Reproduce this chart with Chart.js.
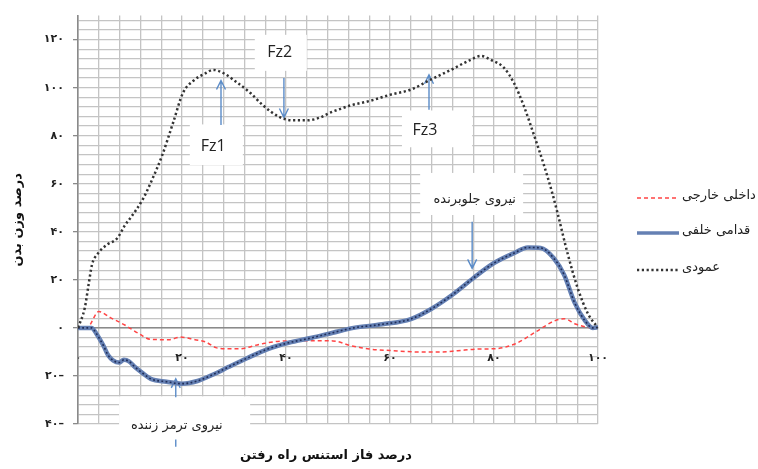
<!DOCTYPE html>
<html lang="fa">
<head>
  <meta charset="UTF-8">
  <title>نیروی عکس العمل زمین</title>
  <script src="https://cdn.jsdelivr.net/npm/chart.js@4.4.1/dist/chart.umd.min.js"></script>
  <style>
    body { margin: 0; background: #fff; }
    #chart { display: block; }
  </style>
</head>
<body>
<canvas id="chart" width="758" height="469"></canvas>
<script>
    // درصد فاز استنس (x) و درصد وزن بدن (y) برای هر مولفه
    const mlX = [0, 1.7, 4, 6.2, 9, 11.8, 14, 17.5, 19.7, 22.5, 24.5, 26.5, 28.5, 31, 35, 39, 45, 49, 52.5, 56, 60, 65.5, 70, 73, 77, 80.5, 84, 88.3, 91.5, 93.5, 95.8, 98.2, 100];
    const mlY = [0, 0, 6.8, 4.3, 1.2, -2.5, -4.8, -4.9, -3.8, -4.9, -5.8, -8.2, -8.7, -8.7, -6.8, -5.5, -5.3, -5.4, -7.4, -8.8, -9.4, -10, -10, -9.5, -8.8, -8.6, -6.7, -1.3, 2.8, 3.8, 1.5, 0.2, 0];

    const apX = [0, 2.6, 3.6, 4.9, 5.8, 6.8, 7.9, 8.8, 9.8, 11, 12.3, 14, 17, 20, 23, 26, 29, 32.5, 36.5, 40.5, 45, 49, 53, 58.5, 64, 68, 72, 76, 80, 84, 86.5, 89, 91.5, 93.5, 95.5, 97.5, 99, 100];
    const apY = [0, 0, -2.6, -7.4, -11.4, -13.6, -14.4, -13.3, -13.9, -16.4, -18.6, -21.2, -22.4, -23.2, -22.1, -19.4, -16.2, -12.6, -8.8, -6.2, -4.1, -2, 0, 1.5, 3.7, 8, 13.8, 20.7, 27, 31.3, 33.5, 33.3, 29, 22, 10.5, 3, 0, 0.3];

    const vX = [0, 1.3, 2, 2.7, 3.7, 5.6, 7.5, 9.1, 10, 12.5, 14, 16.2, 18.3, 20.2, 22.2, 24.5, 26, 28, 30.6, 33.1, 35.6, 38.9, 41.4, 44.1, 46.6, 48.6, 50.5, 52.4, 56.3, 60.1, 64, 67.8, 71.7, 75.5, 77.5, 79.4, 81.9, 83.8, 85.7, 87.7, 89.6, 91.3, 92.3, 94.2, 96.1, 98.1, 100];
    const vY = [0, 8.3, 17.5, 26.4, 30.6, 34.7, 37.2, 43, 45.5, 53.7, 60.5, 71.9, 85.5, 97.9, 102.9, 106, 107.4, 106, 102.1, 97.9, 92.6, 87.6, 86.4, 86.4, 87.6, 89.7, 91.2, 92.6, 94.6, 97.1, 99.2, 103.3, 107.4, 111.6, 113.2, 111.6, 108.3, 102.1, 92.6, 80.2, 67.8, 55.4, 47.1, 30.6, 16.5, 5.8, 0];

    const seriesNames = ['داخلی خارجی', 'قدامی خلفی', 'عمودی'];
    const yTickStep = 4;
    const labelStep = 20;

    const persianDigits = '۰۱۲۳۴۵۶۷۸۹';
    function fa(n) {
        const s = String(Math.abs(n)).replace(/\d/g, d => persianDigits[d]);
        return n < 0 ? s + '–' : s;
    }

    function points(xs, ys) {
        return xs.map((x, i) => ({ x: x, y: ys[i] }));
    }

    // کادرهای توضیحی و فلش ها (بر حسب مقادیر محورها)
    const callouts = [
        { text: 'Fz1', box: [21.5, 31.7, 84.7, 67.8], at: [26, 75.5], arrow: [27.5, 84.5, 103] },
        { text: 'Fz2', box: [34, 44, 122, 107], at: [38.8, 114.5], arrow: [39.6, 104, 87.6] },
        { text: 'Fz3', box: [62.3, 75.8, 90.5, 75.2], at: [66.7, 82.2], arrow: [67.5, 90.8, 105.4] },
        { text: 'نیروی جلوبرنده', box: [65.8, 85.6, 64.5, 47], at: [76.3, 53.3], arrow: [75.8, 44.2, 24.8] },
        { text: 'نیروی ترمز زننده', box: [7.9, 33.1, -28.5, -49], at: [19, -40.5], arrow: [18.8, -28.9, -21.2] }
    ];

    const calloutPlugin = {
        id: 'callouts',
        beforeDatasetsDraw(chart) {
            const ctx = chart.ctx;
            const xs = chart.scales.x, ys = chart.scales.y;
            ctx.save();
            callouts.forEach(c => {
                const x0 = xs.getPixelForValue(c.box[0]), x1 = xs.getPixelForValue(c.box[1]);
                const y0 = ys.getPixelForValue(c.box[2]), y1 = ys.getPixelForValue(c.box[3]);
                ctx.fillStyle = '#ffffff';
                ctx.fillRect(x0, y0, x1 - x0, y1 - y0);

                // فلش
                const ax = xs.getPixelForValue(c.arrow[0]);
                const aFrom = ys.getPixelForValue(c.arrow[1]);
                const aTo = ys.getPixelForValue(c.arrow[2]);
                const dir = aTo > aFrom ? 1 : -1;
                ctx.strokeStyle = '#5b8cc8';
                ctx.lineWidth = 1.4;
                ctx.beginPath();
                ctx.moveTo(ax, aFrom);
                ctx.lineTo(ax, aTo);
                ctx.moveTo(ax - 4.5, aTo - dir * 9);
                ctx.lineTo(ax, aTo);
                ctx.lineTo(ax + 4.5, aTo - dir * 9);
                ctx.stroke();

                ctx.fillStyle = '#222';
                ctx.textAlign = 'center';
                ctx.textBaseline = 'middle';
                ctx.font = c.text.startsWith('Fz') ? '16px "Open Sans", sans-serif' : '13px "DejaVu Sans", sans-serif';
                ctx.fillText(c.text, xs.getPixelForValue(c.at[0]), ys.getPixelForValue(c.at[1]));
            });
            // خط کوچک زیر کادر ترمز
            const t = callouts[4];
            const tx = xs.getPixelForValue(t.arrow[0]);
            ctx.strokeStyle = '#5b8cc8';
            ctx.lineWidth = 1.4;
            ctx.beginPath();
            ctx.moveTo(tx, ys.getPixelForValue(-46.5));
            ctx.lineTo(tx, ys.getPixelForValue(-49.5));
            ctx.stroke();
            ctx.restore();
        },
        afterDraw(chart) {
            const ctx = chart.ctx;
            const area = chart.chartArea;
            ctx.save();
            // عنوان محور افقی
            ctx.fillStyle = '#111';
            ctx.font = 'bold 13px "DejaVu Sans", sans-serif';
            ctx.textAlign = 'center';
            ctx.textBaseline = 'middle';
            ctx.fillText('درصد فاز استنس راه رفتن', 326, 456);

            // راهنما
            const legendRows = [
                { ds: 3, y: 198 },
                { ds: 2, y: 233 },
                { ds: 0, y: 270 }
            ];
            legendRows.forEach((r, i) => {
                const d = chart.data.datasets[r.ds];
                ctx.strokeStyle = d.borderColor;
                ctx.lineWidth = r.ds === 2 ? 3.5 : d.borderWidth;
                ctx.setLineDash(r.ds === 2 ? [] : d.borderDash);
                ctx.beginPath();
                ctx.moveTo(area.right + 39, r.y);
                ctx.lineTo(area.right + 81, r.y);
                ctx.stroke();
                ctx.setLineDash([]);
                ctx.fillStyle = '#222';
                ctx.font = '13px "DejaVu Sans", sans-serif';
                ctx.textAlign = 'left';
                ctx.fillText(seriesNames[i], area.right + 84, r.y - 2);
            });
            ctx.restore();
        }
    };

    const tickFont = { family: '"DejaVu Sans", sans-serif', size: 11, weight: 'bold' };

    new Chart(document.getElementById('chart'), {
        type: 'line',
        data: {
            datasets: [
                {
                    label: seriesNames[2],
                    data: points(vX, vY),
                    borderColor: '#333333',
                    borderWidth: 2.5,
                    borderDash: [2.2, 2.6]
                },
                {
                    label: seriesNames[1] + ' (نقطه)',
                    data: points(apX, apY),
                    borderColor: '#1f2d58',
                    borderWidth: 1.6,
                    borderDash: [1.8, 2.4]
                },
                {
                    label: seriesNames[1],
                    data: points(apX, apY),
                    borderColor: '#6580b3',
                    borderWidth: 4.5
                },
                {
                    label: seriesNames[0],
                    data: points(mlX, mlY),
                    borderColor: '#ff4444',
                    borderWidth: 1.5,
                    borderDash: [4, 3]
                }
            ]
        },
        options: {
            responsive: false,
            animation: false,
            datasets: {
                line: { pointRadius: 0, cubicInterpolationMode: 'monotone', fill: false }
            },
            layout: { padding: { top: 13, right: 160, bottom: 45, left: 0 } },
            plugins: {
                legend: { display: false },
                tooltip: { enabled: false }
            },
            scales: {
                x: {
                    type: 'linear',
                    position: { y: 0 },
                    min: 0,
                    max: 100,
                    afterFit: s => { s.height = 0; },
                    ticks: {
                        stepSize: yTickStep,
                        autoSkip: false,
                        maxRotation: 0,
                        padding: 24,
                        color: '#222',
                        font: tickFont,
                        callback: v => (v % labelStep === 0 ? fa(v) : '')
                    },
                    grid: { color: '#c4c4c4', lineWidth: 1.3, drawTicks: false },
                    border: { color: '#8a8a8a', width: 1.6 }
                },
                y: {
                    min: -40,
                    max: 130,
                    afterFit: s => { s.width = 78; },
                    ticks: {
                        stepSize: yTickStep,
                        includeBounds: false,
                        autoSkip: false,
                        padding: 9,
                        color: '#222',
                        font: tickFont,
                        callback: v => (v % labelStep === 0 ? fa(v) : '')
                    },
                    grid: {
                        color: '#c4c4c4',
                        lineWidth: 1.3,
                        tickLength: 5,
                        tickColor: c => (c.tick && c.tick.value % labelStep === 0 ? '#8a8a8a' : 'rgba(0,0,0,0)')
                    },
                    border: { color: '#8a8a8a', width: 1.6 },
                    title: {
                        display: true,
                        text: 'درصد وزن بدن',
                        color: '#111',
                        font: { family: '"DejaVu Sans", sans-serif', size: 13, weight: 'bold' },
                        padding: { top: 10, bottom: 0 }
                    }
                }
            }
        },
        plugins: [calloutPlugin]
    });
</script>
</body>
</html>
